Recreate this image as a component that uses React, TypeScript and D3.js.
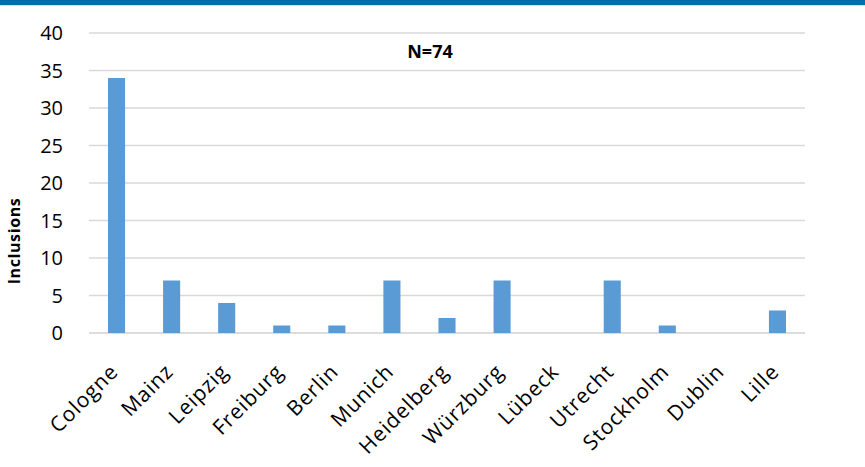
import React from "react";
import * as d3 from "d3";

const categories = ["Cologne", "Mainz", "Leipzig", "Freiburg", "Berlin", "Munich", "Heidelberg", "Würzburg", "Lübeck", "Utrecht", "Stockholm", "Dublin", "Lille"];
const inclusions = [34, 7, 4, 1, 1, 7, 2, 7, 0, 7, 1, 0, 3];
const yTicks = [0, 5, 10, 15, 20, 25, 30, 35, 40];
const yLabel = "Inclusions";
const annotation = "N=74";

const W = 865, H = 467;
const left = 89, right = 805, top = 33, bottom = 333;
const font = "'Open Sans', 'Noto Sans', sans-serif";

export default function App() {
  const x = d3.scaleBand<string>().domain(categories).range([left, right]).paddingInner(0.69).paddingOuter(0.345);
  const y = d3.scaleLinear().domain([0, 40]).range([bottom, top]);
  return (
    <svg width={W} height={H} style={{ position: "absolute", left: 0, top: 0, background: "#fff" }}>
      <rect x={0} y={0} width={W} height={5} fill="#0071a4" />
      <rect x={0} y={5} width={W} height={1} fill="#cfe3ee" />
      {yTicks.map((t) => (
        <g key={t}>
          <line x1={left} x2={right} y1={y(t)} y2={y(t)} stroke={t === 0 ? "#d0d0d0" : "#d9d9d9"} strokeWidth={1.3} />
          <text x={63} y={y(t)} dy="0.36em" textAnchor="end" fontFamily={font} fontSize={20} fill="#000">{t}</text>
        </g>
      ))}
      {categories.map((c, i) => (
        <rect key={c} x={x(c)} y={y(inclusions[i])} width={x.bandwidth()} height={y(0) - y(inclusions[i])} fill="#5b9bd5" />
      ))}
      {categories.map((c) => {
        const cx = (x(c) as number) + x.bandwidth() / 2 + 3;
        const cy = bottom + 40;
        return (
          <text key={c} x={cx} y={cy} transform={`rotate(-45 ${cx} ${cy})`} textAnchor="end" fontFamily={font} fontSize={21} letterSpacing={0.9} fill="#000">{c}</text>
        );
      })}
      <text transform={`translate(20 ${241}) rotate(-90)`} textAnchor="middle" fontFamily={font} fontSize={16} letterSpacing={0.6} fontWeight="bold" fill="#000">{yLabel}</text>
      <text x={430} y={58} textAnchor="middle" fontFamily={font} fontSize={18} fontWeight="bold" fill="#000">{annotation}</text>
    </svg>
  );
}
